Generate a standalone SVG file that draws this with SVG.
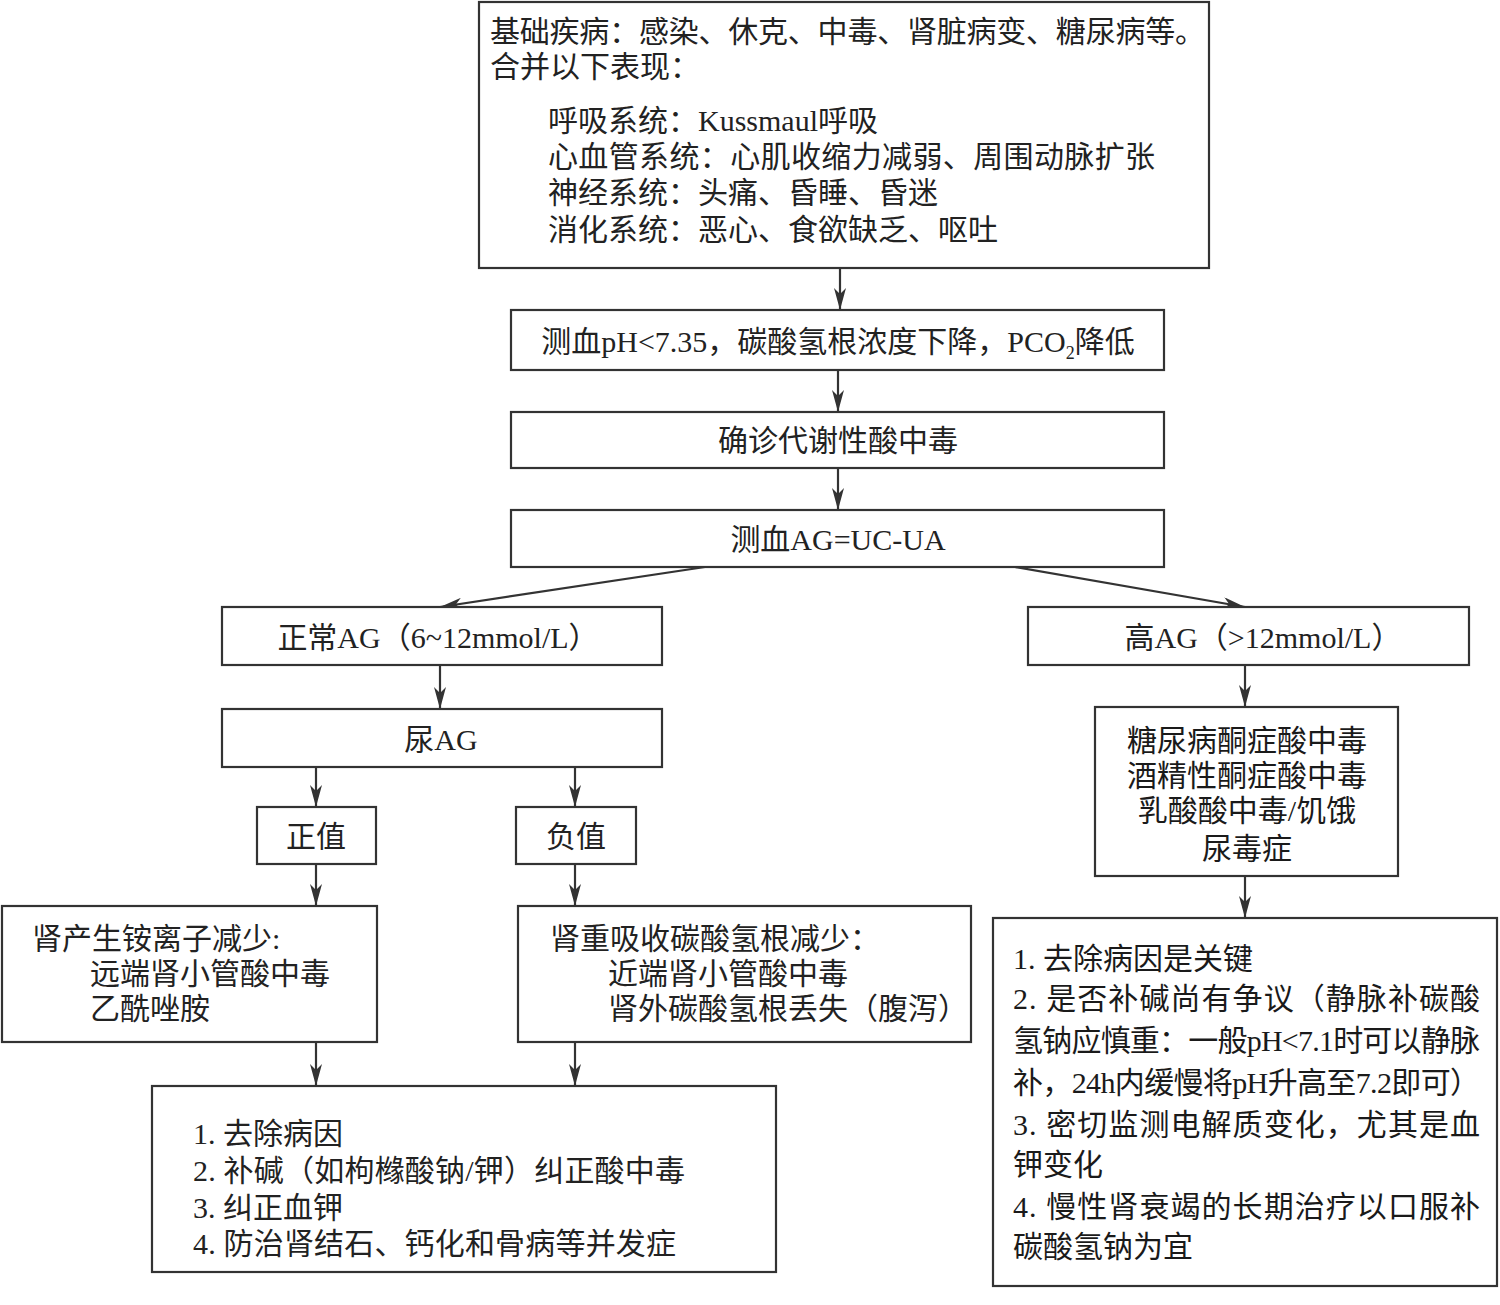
<svg xmlns="http://www.w3.org/2000/svg" width="1500" height="1305" viewBox="0 0 1500 1305">
<style>
.box{fill:#fff;stroke:#333;stroke-width:2.2}
.t{font-family:"Liberation Serif","Noto Sans CJK SC",serif;font-size:30px;fill:#222}
.c{text-anchor:middle}
.r{font-family:"Liberation Serif","Noto Sans CJK SC",serif;font-size:30px;fill:#1a1a1a}
.edge{stroke:#333;stroke-width:2.2;fill:none;marker-end:url(#ah)}
</style>
<defs>
<marker id="ah" markerUnits="userSpaceOnUse" viewBox="0 0 22 12" refX="22" refY="6" markerWidth="22" markerHeight="12" orient="auto">
<path d="M0,0 L22,6 L0,12 L6,6 Z" fill="#333"/>
</marker>
</defs>
<rect width="1500" height="1305" fill="#fff"/>
<g id="connectors">
<line class="edge" x1="840" y1="268" x2="840" y2="310"/>
<line class="edge" x1="838" y1="370" x2="838" y2="412"/>
<line class="edge" x1="838" y1="468" x2="838" y2="510"/>
<line class="edge" x1="705" y1="567" x2="440" y2="607"/>
<line class="edge" x1="1015" y1="567" x2="1245" y2="607"/>
<line class="edge" x1="440" y1="665" x2="440" y2="709"/>
<line class="edge" x1="316" y1="767" x2="316" y2="807"/>
<line class="edge" x1="575" y1="767" x2="575" y2="807"/>
<line class="edge" x1="316" y1="864" x2="316" y2="906"/>
<line class="edge" x1="575" y1="864" x2="575" y2="906"/>
<line class="edge" x1="316" y1="1042" x2="316" y2="1086"/>
<line class="edge" x1="575" y1="1042" x2="575" y2="1086"/>
<line class="edge" x1="1245" y1="665" x2="1245" y2="707"/>
<line class="edge" x1="1245" y1="876" x2="1245" y2="918"/>
</g>
<g id="n-top">
<rect class="box" x="479" y="2" width="730" height="266"/>
<text class="t" x="490" y="42" textLength="715" lengthAdjust="spacing">基础疾病：感染、休克、中毒、肾脏病变、糖尿病等。</text>
<text class="t" x="490" y="77">合并以下表现：</text>
<text class="t" x="548" y="131">呼吸系统：Kussmaul呼吸</text>
<text class="t" x="548" y="167" textLength="607" lengthAdjust="spacing">心血管系统：心肌收缩力减弱、周围动脉扩张</text>
<text class="t" x="548" y="203">神经系统：头痛、昏睡、昏迷</text>
<text class="t" x="548" y="240">消化系统：恶心、食欲缺乏、呕吐</text>
</g>
<g id="n-ph">
<rect class="box" x="511" y="310" width="653" height="60"/>
<text class="t c" x="838" y="352">测血pH&lt;7.35，碳酸氢根浓度下降，PCO<tspan font-size="18" dy="7">2</tspan><tspan dy="-7">降低</tspan></text>
</g>
<g id="n-diag">
<rect class="box" x="511" y="412" width="653" height="56"/>
<text class="t c" x="838" y="451">确诊代谢性酸中毒</text>
</g>
<g id="n-ag">
<rect class="box" x="511" y="510" width="653" height="57"/>
<text class="t c" x="838" y="550">测血AG=UC-UA</text>
</g>
<g id="n-normal">
<rect class="box" x="222" y="607" width="440" height="58"/>
<text class="t c" x="438" y="648">正常AG（6~12mmol/L）</text>
</g>
<g id="n-high">
<rect class="box" x="1028" y="607" width="441" height="58"/>
<text class="t c" x="1263" y="648">高AG（&gt;12mmol/L）</text>
</g>
<g id="n-uag">
<rect class="box" x="222" y="709" width="440" height="58"/>
<text class="t c" x="441" y="750">尿AG</text>
</g>
<g id="n-pos">
<rect class="box" x="257" y="807" width="119" height="57"/>
<text class="t c" x="316" y="847">正值</text>
</g>
<g id="n-neg">
<rect class="box" x="516" y="807" width="120" height="57"/>
<text class="t c" x="576" y="847">负值</text>
</g>
<g id="n-ammonium">
<rect class="box" x="2" y="906" width="375" height="136"/>
<text class="t" x="32" y="949">肾产生铵离子减少:</text>
<text class="t" x="90" y="984">远端肾小管酸中毒</text>
<text class="t" x="90" y="1019">乙酰唑胺</text>
</g>
<g id="n-bicarb">
<rect class="box" x="518" y="906" width="453" height="136"/>
<text class="t" x="550" y="949">肾重吸收碳酸氢根减少：</text>
<text class="t" x="608" y="984">近端肾小管酸中毒</text>
<text class="t" x="608" y="1019">肾外碳酸氢根丢失（腹泻）</text>
</g>
<g id="n-treat-left">
<rect class="box" x="152" y="1086" width="624" height="186"/>
<text class="t" x="193" y="1144">1. 去除病因</text>
<text class="t" x="193" y="1181" textLength="492" lengthAdjust="spacing">2. 补碱（如枸橼酸钠/钾）纠正酸中毒</text>
<text class="t" x="193" y="1218">3. 纠正血钾</text>
<text class="t" x="193" y="1254" textLength="483" lengthAdjust="spacing">4. 防治肾结石、钙化和骨病等并发症</text>
</g>
<g id="n-causes">
<rect class="box" x="1095" y="707" width="303" height="169"/>
<text class="r c" x="1247" y="751">糖尿病酮症酸中毒</text>
<text class="r c" x="1247" y="786">酒精性酮症酸中毒</text>
<text class="r c" x="1247" y="821">乳酸酸中毒/饥饿</text>
<text class="r c" x="1247" y="859">尿毒症</text>
</g>
<g id="n-treat-right">
<rect class="box" x="993" y="918" width="504" height="368"/>
<text class="r" x="1013" y="969">1. 去除病因是关键</text>
<text class="r" x="1013" y="1009" textLength="467" lengthAdjust="spacing">2. 是否补碱尚有争议（静脉补碳酸</text>
<text class="r" x="1013" y="1051" textLength="467" lengthAdjust="spacing">氢钠应慎重：一般pH&lt;7.1时可以静脉</text>
<text class="r" x="1013" y="1093" textLength="467" lengthAdjust="spacing">补，24h内缓慢将pH升高至7.2即可）</text>
<text class="r" x="1013" y="1135" textLength="467" lengthAdjust="spacing">3. 密切监测电解质变化，尤其是血</text>
<text class="r" x="1013" y="1175">钾变化</text>
<text class="r" x="1013" y="1217" textLength="467" lengthAdjust="spacing">4. 慢性肾衰竭的长期治疗以口服补</text>
<text class="r" x="1013" y="1257">碳酸氢钠为宜</text>
</g>
</svg>
